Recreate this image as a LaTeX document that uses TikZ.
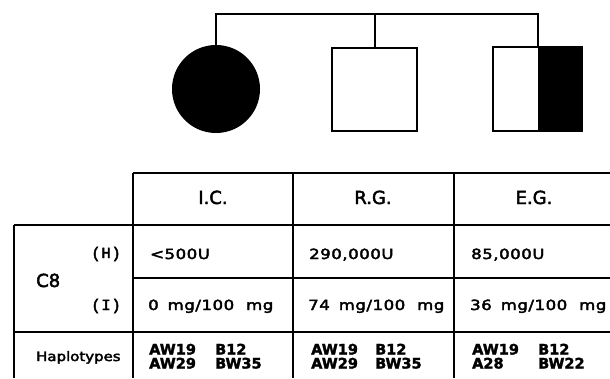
\documentclass[tikz,border=0pt]{standalone}
\usepackage{fontspec}
\setmainfont{DejaVu Sans}[FakeBold=2]
\newfontfamily\lr[FakeStretch=1.18,LetterSpace=4,FakeBold=3]{DejaVu Sans}
\newfontfamily\lrh[FakeStretch=1.15,FakeBold=3]{DejaVu Sans}
\newfontfamily\hd[FakeBold=2.5]{DejaVu Sans}
\newfontfamily\monof[LetterSpace=5,FakeBold=3]{Liberation Mono}
\newcommand{\gapA}{\hspace{9pt}}
\newcommand{\gapB}{\hspace{12pt}}
\begin{document}
\begin{tikzpicture}[x=1pt,y=-1pt,
  grid/.style={line width=1.3pt},
  ped/.style={line width=2pt},
  person/.style={draw, line width=2pt, inner sep=0pt},
  cell/.style={anchor=base west, inner sep=0pt, font=\lr\fontsize{14}{14}\selectfont},
  hap/.style={anchor=base west, inner sep=0pt, font=\bfseries\fontsize{14.5}{14.5}\selectfont},
  head/.style={anchor=base, inner sep=0pt, font=\hd\fontsize{18}{18}\selectfont},
  lbl/.style={anchor=base east, inner sep=0pt, font=\monof\fontsize{15.5}{15.5}\selectfont}]
\useasboundingbox (0,0) rectangle (610,378);
% pedigree
\node[person, circle, fill=black, minimum size=86pt] (ic) at (216,89) {};
\node[person, rectangle, minimum width=85pt, minimum height=83pt] (rg) at (374.5,89.5) {};
\node[person, rectangle, minimum width=89pt, minimum height=84pt,
  path picture={\fill[black] (path picture bounding box.north) rectangle (path picture bounding box.south east);}] (eg) at (537.5,89) {};
\coordinate (sib) at (216,14);
\draw[ped] (ic.north) -- (ic.north |- sib) -- (eg.north |- sib) -- (eg.north);
\draw[ped] (rg.north) -- (rg.north |- sib);
% table grid
\draw[grid] (133,173) -- (610,173);
\draw[grid] (14,225) -- (610,225);
\draw[grid] (133,278) -- (610,278);
\draw[grid] (14,332) -- (610,332);
\draw[grid] (14,225) -- (14,378);
\draw[grid] (133,173) -- (133,378);
\draw[grid] (293,173) -- (293,378);
\draw[grid] (454,173) -- (454,378);
% headers
\node[head] (hic) at (213,204) {I.C.};
\node[head] (hrg) at (373,204) {R.G.};
\node[head] (heg) at (534,204) {E.G.};
% left labels
\node[anchor=base west, inner sep=0pt, font=\hd\fontsize{18}{18}\selectfont] (c8) at (36,287) {C8};
\node[lbl] (lh) at (121,258) {(H)};
\node[lbl] (li) at (121,310) {(I)};
\node[anchor=base west, inner sep=0pt, font=\lrh\fontsize{13}{13}\selectfont] (hap) at (36,361) {Haplotypes};
% H row
\node[cell] (h1) at (150,259) {<500U};
\node[cell] (h2) at (309,259) {290,000U};
\node[cell] (h3) at (471,259) {85,000U};
% I row
\node[cell] (i1) at (148,310) {0\gapA{}mg/100\gapB{}mg};
\node[cell] (i2) at (308,310) {74\gapA{}mg/100\gapB{}mg};
\node[cell] (i3) at (470,310) {36\gapA{}mg/100\gapB{}mg};
% haplotypes
\node[hap] (a1) at (149,354.5) {AW19};
\node[hap] (b1) at (215,354.5) {B12};
\node[hap] (a2) at (149,368.5) {AW29};
\node[hap] (b2) at (215,368.5) {BW35};
\node[hap] (a3) at (311,354.5) {AW19};
\node[hap] (b3) at (375,354.5) {B12};
\node[hap] (a4) at (311,368.5) {AW29};
\node[hap] (b4) at (375,368.5) {BW35};
\node[hap] (a5) at (472,354.5) {AW19};
\node[hap] (b5) at (538,354.5) {B12};
\node[hap] (a6) at (472,368.5) {A28};
\node[hap] (b6) at (538,368.5) {BW22};
\end{tikzpicture}
\end{document}
